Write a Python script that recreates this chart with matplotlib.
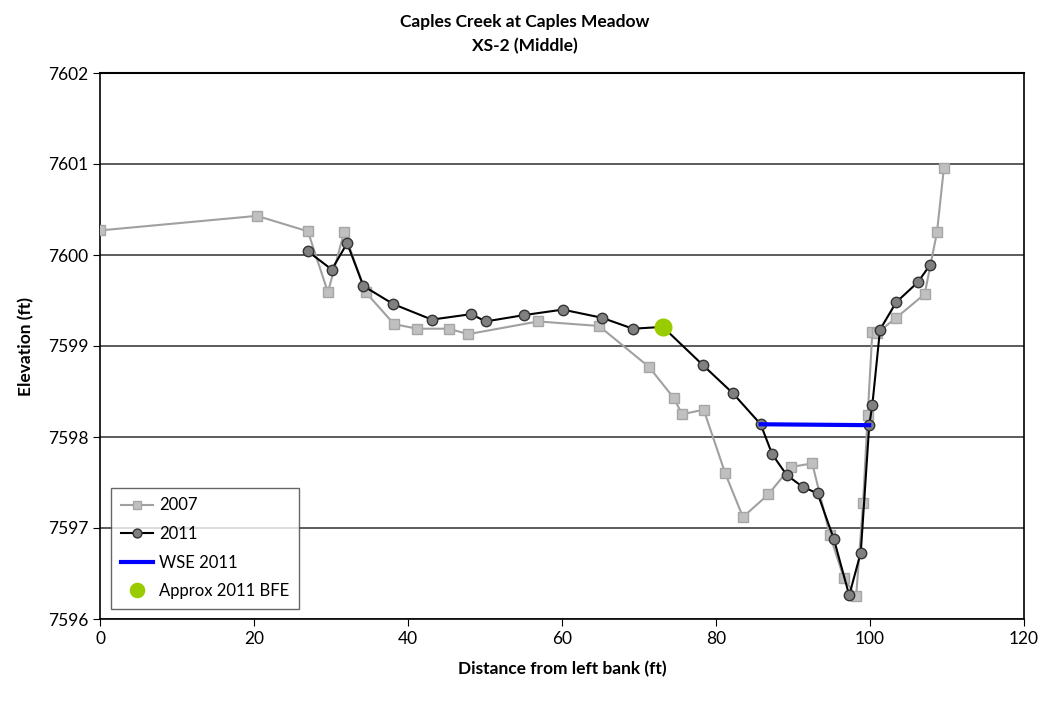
import matplotlib.pyplot as plt

plt.rcParams['font.family'] = ['Lato', 'DejaVu Sans']

# 2007 survey
x_2007 = [0.0, 20.4, 27.0, 29.6, 31.7, 34.5, 38.2, 41.2, 45.3, 47.8, 56.9, 64.8,
          71.3, 74.5, 75.6, 78.4, 81.2, 83.5, 86.8, 89.7, 92.5, 94.8, 96.6, 98.2,
          99.1, 99.7, 100.3, 100.9, 103.4, 107.1, 108.7, 109.6]
z_2007 = [7600.27, 7600.43, 7600.26, 7599.59, 7600.25, 7599.59, 7599.24, 7599.19,
          7599.19, 7599.13, 7599.27, 7599.22, 7598.77, 7598.43, 7598.25, 7598.30,
          7597.60, 7597.12, 7597.37, 7597.67, 7597.71, 7596.92, 7596.45, 7596.25,
          7597.27, 7598.24, 7599.15, 7599.14, 7599.31, 7599.57, 7600.25, 7600.96]

# 2011 survey
x_2011 = [27.0, 30.1, 32.1, 34.2, 38.1, 43.1, 48.2, 50.1, 55.1, 60.1, 65.2, 69.2,
          73.1, 78.3, 82.2, 85.8, 87.3, 89.2, 91.3, 93.2, 95.3, 97.3, 98.8, 99.9,
          100.3, 101.3, 103.4, 106.2, 107.8]
z_2011 = [7600.04, 7599.84, 7600.13, 7599.66, 7599.46, 7599.29, 7599.35, 7599.27,
          7599.34, 7599.40, 7599.31, 7599.19, 7599.21, 7598.79, 7598.48, 7598.14,
          7597.81, 7597.58, 7597.45, 7597.38, 7596.88, 7596.26, 7596.73, 7598.13,
          7598.35, 7599.18, 7599.48, 7599.70, 7599.89]

# water surface 2011 and bankfull estimate
x_wse = [85.8, 99.9]
z_wse = [7598.14, 7598.13]
x_bfe = [73.1]
z_bfe = [7599.21]

fig = plt.figure(figsize=(10.49, 7.05), dpi=100)
ax = fig.add_axes([100/1049, 1 - 619/705, 924/1049, 546/705])

ax.plot(x_2007, z_2007, color='#a0a0a0', lw=1.5, marker='s', ms=7,
        mfc='#c0c0c0', mec='#a6a6a6', mew=1, label='2007', zorder=3)
ax.plot(x_2011, z_2011, color='black', lw=1.5, marker='o', ms=7.5,
        mfc='#808080', mec='#333333', mew=1, label='2011', zorder=4)
ax.plot(x_wse, z_wse, color='#0000ff', lw=3, label='WSE 2011', zorder=5)
ax.plot(x_bfe, z_bfe, ls='none', marker='o', ms=12, mfc='#99cc00', mec='#99cc00',
        label='Approx 2011 BFE', zorder=6)

ax.set_xlim(0, 120)
ax.set_ylim(7596, 7602)
ax.set_xticks(range(0, 121, 20))
ax.set_yticks(range(7596, 7603))
ax.yaxis.grid(True, color='#404040', lw=1.2)
ax.set_axisbelow(True)
ax.tick_params(labelsize=12.5, direction='out', length=5, color='black')
ax.ticklabel_format(useOffset=False)
for s in ax.spines.values():
    s.set_color('black')
    s.set_linewidth(1.2)
ax.spines['top'].set_linewidth(1.5)

ax.set_xlabel('Distance from left bank (ft)', fontsize=12.5, fontweight='bold', labelpad=10)
ax.set_ylabel('Elevation (ft)', fontsize=12.5, fontweight='bold', labelpad=10)
fig.text(0.5, 1 - 22/705, 'Caples Creek at Caples Meadow', ha='center', va='center',
         fontsize=12.5, fontweight='bold')
fig.text(0.5, 1 - 46/705, 'XS-2 (Middle)', ha='center', va='center',
         fontsize=12.5, fontweight='bold')

leg = ax.legend(loc='lower left', bbox_to_anchor=(111/1049, 1 - 609/705, 188/1049, 127/705),
                bbox_transform=fig.transFigure, mode='expand', fontsize=12,
                frameon=True, fancybox=False, edgecolor='#404040', borderaxespad=0,
                handlelength=1.9, handletextpad=0.4, labelspacing=0.75, borderpad=0.6,
                markerscale=0.85)
leg.get_frame().set_linewidth(1)

fig.savefig('out.png', dpi=100)
